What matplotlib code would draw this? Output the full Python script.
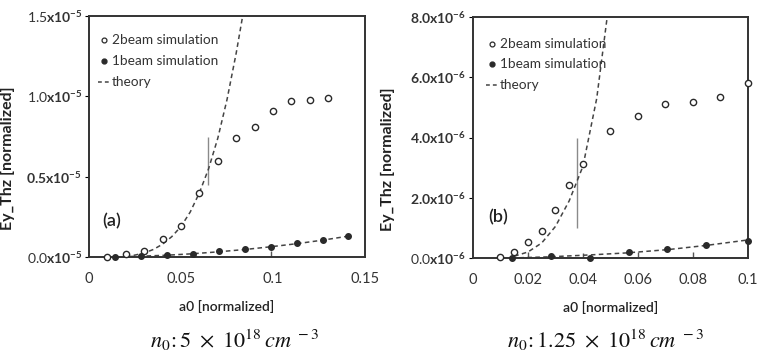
import matplotlib
matplotlib.use("Agg")
import matplotlib.pyplot as plt

plt.rcParams["font.family"] = ["Lato", "DejaVu Sans"]
plt.rcParams["mathtext.fontset"] = "custom"
plt.rcParams["mathtext.rm"] = "Lato"
plt.rcParams["mathtext.bf"] = "Lato:bold"
plt.rcParams["mathtext.it"] = "Lato:italic"

# ---- panel (a): n0 = 5e18 cm^-3 ----
a_two_x = [0.01, 0.02, 0.03, 0.04, 0.05, 0.06, 0.07, 0.08, 0.09, 0.10, 0.11, 0.12, 0.13]
a_two_y = [0.0, 0.02e-5, 0.04e-5, 0.11e-5, 0.19e-5, 0.40e-5, 0.60e-5, 0.74e-5,
           0.81e-5, 0.91e-5, 0.97e-5, 0.98e-5, 0.99e-5]
a_one_x = [0.0141, 0.0283, 0.0424, 0.0566, 0.0707, 0.0849, 0.099, 0.113, 0.127, 0.141]
a_one_y = [0.0, 0.006e-5, 0.01e-5, 0.02e-5, 0.035e-5, 0.05e-5, 0.065e-5, 0.085e-5,
           0.105e-5, 0.13e-5]
a_th2_x = [0.02, 0.025, 0.03, 0.035, 0.04, 0.045, 0.05, 0.055, 0.06, 0.065, 0.07,
           0.075, 0.08, 0.0835]
a_th2_y = [0.005e-5, 0.012e-5, 0.025e-5, 0.047e-5, 0.08e-5, 0.127e-5, 0.19e-5, 0.28e-5,
           0.40e-5, 0.55e-5, 0.74e-5, 0.98e-5, 1.27e-5, 1.5e-5]
a_th1_x = [0.014, 0.028, 0.042, 0.056, 0.07, 0.085, 0.099, 0.113, 0.127, 0.141]
a_th1_y = [0.001e-5, 0.005e-5, 0.011e-5, 0.02e-5, 0.032e-5, 0.047e-5, 0.064e-5,
           0.083e-5, 0.105e-5, 0.13e-5]
a_bar_x = [0.0645]
a_bar_lo = [0.45e-5]
a_bar_hi = [0.75e-5]
a_err_x = [0.099]
a_err_lo = [0.0]
a_err_hi = [0.035e-5]
a_xticks = [0, 0.05, 0.1, 0.15]
a_xlabels = ["0", "0.05", "0.1", "0.15"]
a_yticks = [0, 0.5e-5, 1.0e-5, 1.5e-5]
a_ylabels = [r"0.0$\mathbf{x10^{-5}}$", r"$\mathbf{0.5x10^{-5}}$",
             r"1.0$\mathbf{x10^{-5}}$", r"1.5$\mathbf{x10^{-5}}$"]

# ---- panel (b): n0 = 1.25e18 cm^-3 ----
b_two_x = [0.01, 0.015, 0.02, 0.025, 0.03, 0.035, 0.04, 0.05, 0.06, 0.07, 0.08, 0.09, 0.10]
b_two_y = [0.05e-6, 0.2e-6, 0.52e-6, 0.91e-6, 1.60e-6, 2.41e-6, 3.13e-6, 4.23e-6,
           4.72e-6, 5.10e-6, 5.17e-6, 5.36e-6, 5.80e-6]
b_one_x = [0.0141, 0.0283, 0.0424, 0.0566, 0.0707, 0.0849, 0.10]
b_one_y = [0.0, 0.06e-6, 0.0, 0.19e-6, 0.3e-6, 0.43e-6, 0.56e-6]
b_th2_x = [0.015, 0.02, 0.025, 0.03, 0.035, 0.04, 0.045, 0.0488]
b_th2_y = [0.06e-6, 0.2e-6, 0.5e-6, 1.05e-6, 1.9e-6, 3.05e-6, 5.3e-6, 8.0e-6]
b_th1_x = [0.014, 0.028, 0.042, 0.056, 0.071, 0.085, 0.10]
b_th1_y = [0.0, 0.04e-6, 0.1e-6, 0.17e-6, 0.28e-6, 0.42e-6, 0.6e-6]
b_bar_x = [0.0378]
b_bar_lo = [1.0e-6]
b_bar_hi = [4.0e-6]
b_err_x = [0.02, 0.04, 0.06, 0.08]
b_err_lo = [0.0, 0.0, 0.03e-6, 0.03e-6]
b_err_hi = [0.2e-6, 0.17e-6, 0.2e-6, 0.2e-6]
b_xticks = [0, 0.02, 0.04, 0.06, 0.08, 0.1]
b_xlabels = ["0", "0.02", "0.04", "0.06", "0.08", "0.1"]
b_yticks = [0, 2e-6, 4e-6, 6e-6, 8e-6]
b_ylabels = [r"0.0$\mathbf{x10^{-6}}$", r"$\mathbf{2.0x10^{-6}}$", r"$\mathbf{4.0x10^{-6}}$",
             r"$\mathbf{6.0x10^{-6}}$", r"$\mathbf{8.0x10^{-6}}$"]

captions = [r"$n_0\!:5\ \times\ 10^{18}\,cm^{\ -3}$",
            r"$n_0\!:1.25\ \times\ 10^{18}\,cm^{\ -3}$"]

fig = plt.figure(figsize=(7.57, 3.6), dpi=100)
ax1 = fig.add_axes([0.1176, 0.2861, 0.3646, 0.6694])
ax2 = fig.add_axes([0.6248, 0.2833, 0.3633, 0.6694])

panels = [
    (ax1, a_two_x, a_two_y, a_one_x, a_one_y, a_th2_x, a_th2_y, a_th1_x, a_th1_y,
     a_bar_x, a_bar_lo, a_bar_hi, a_err_x, a_err_lo, a_err_hi,
     a_xticks, a_xlabels, a_yticks, a_ylabels, (0, 0.15), (0, 1.5e-5), "(a)",
     (0.047, 0.15), (0.054, 0.90), -0.27),
    (ax2, b_two_x, b_two_y, b_one_x, b_one_y, b_th2_x, b_th2_y, b_th1_x, b_th1_y,
     b_bar_x, b_bar_lo, b_bar_hi, b_err_x, b_err_lo, b_err_hi,
     b_xticks, b_xlabels, b_yticks, b_ylabels, (0, 0.1), (0, 8e-6), "(b)",
     (0.055, 0.168), (0.068, 0.89), -0.285),
]

dark = "#2a2a2a"
for i, p in enumerate(panels):
    (ax, tx, ty, ox, oy, t2x, t2y, t1x, t1y, bx, blo, bhi, ex, elo, ehi,
     xt, xl, yt, yl, xlim, ylim, tag, tagpos, legpos, ylabx) = p

    ax.plot(t2x, t2y, ls=(0, (3, 2.2)), color="#444444", lw=1.1, zorder=2)
    ax.plot(t1x, t1y, ls=(0, (3, 2.2)), color="#444444", lw=1.1, zorder=2)
    ax.vlines(bx, blo, bhi, color="#8a8a8a", lw=1.0, zorder=1)
    ax.vlines(ex, elo, ehi, color="#555555", lw=1.0, zorder=1)
    ax.plot(tx, ty, "o", mfc="white", mec=dark, mew=1.0, ms=4.5, ls="none",
            clip_on=False, zorder=3)
    ax.plot(ox, oy, "o", color=dark, ms=4, ls="none", clip_on=False, zorder=3)

    ax.set_xlim(*xlim)
    ax.set_ylim(*ylim)
    ax.set_xticks(xt)
    ax.set_xticklabels(xl, fontsize=10.5, color="#333333")
    ax.set_yticks(yt)
    ax.set_yticklabels(yl, fontsize=10, color="#333333")
    ax.tick_params(axis="x", length=0, pad=11)
    ax.tick_params(axis="y", length=3, width=0.8, direction="out", pad=2)
    for s in ax.spines.values():
        s.set_color("#333333")
        s.set_linewidth(1.4)

    ax.set_xlabel("a0 [normalized]", fontsize=10, fontweight="semibold", color="#222222",
                  labelpad=10)
    ax.set_ylabel("Ey_Thz [normalized]", fontsize=11.5, fontweight="bold", color="#222222")
    ax.yaxis.set_label_coords(ylabx, 0.41)

    ax.text(tagpos[0], tagpos[1], tag, transform=ax.transAxes, fontsize=13,
            fontweight="semibold", color="#222222", va="center", ha="left")

    # legend drawn as plain text rows
    lx, ly = legpos
    rows = ["2beam simulation", "1beam simulation", "theory"]
    for k, r in enumerate(rows):
        yy = ly - k * 0.086
        if k == 0:
            ax.plot([lx], [yy], "o", mfc="white", mec=dark, mew=0.9, ms=3.5,
                    transform=ax.transAxes)
        elif k == 1:
            ax.plot([lx], [yy], "o", color=dark, ms=3.5, transform=ax.transAxes)
        else:
            ax.plot([lx - 0.02, lx + 0.02], [yy, yy], ls=(0, (2.5, 2)), color="#444444",
                    lw=1.1, transform=ax.transAxes)
        ax.text(lx + 0.03, yy, r, transform=ax.transAxes, fontsize=9.8, color="#333333",
                va="center", ha="left")

    fig.text([0.31, 0.80][i], 0.055, captions[i], fontsize=16, math_fontfamily="stix",
             ha="center", va="center", color="#111111")

fig.savefig("out.png", dpi=100)
